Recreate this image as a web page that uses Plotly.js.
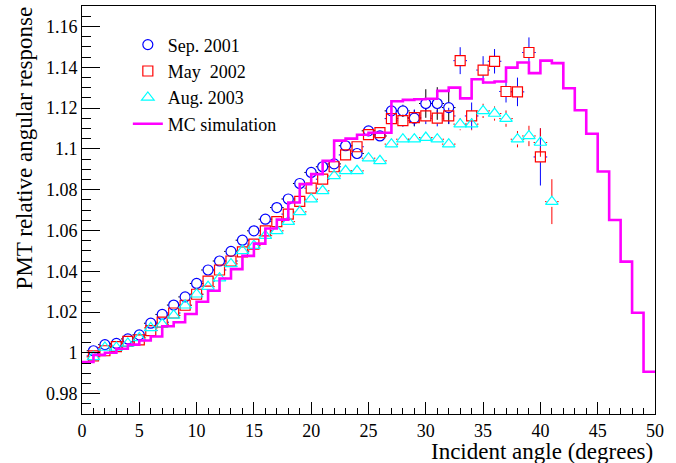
<!DOCTYPE html>
<html><head><meta charset="utf-8">
<script src="https://cdn.plot.ly/plotly-3.0.1.min.js"></script>
<style>html,body{margin:0;padding:0;background:#fff}</style>
</head><body><div id="chart" style="width:676px;height:463px"></div>
<script>
// ---- data ----
const mcBinEdges = [0,1,2,3,4,5,6,7,8,9,10,11,12,13,14,15,16,17,18,19,20,21,22,23,24,25,26,27,28,29,30,31,32,33,34,35,36,37,38,39,40,41,42,43,44,45,46,47,48,49,50];
const mcValues = [0.9955,0.999,1.0,1.002,1.004,1.006,1.008,1.013,1.015,1.019,
  1.025,1.0304,1.0364,1.041,1.0475,1.0535,1.0609,1.0653,1.0737,1.0827,
  1.0876,1.0941,1.104,1.105,1.1069,1.1079,1.1079,1.1233,1.124,1.1243,
  1.1245,1.1284,1.13,1.1247,1.1341,1.1325,1.133,1.1398,1.1423,1.1371,
  1.1432,1.142,1.1297,1.1189,1.1074,1.0889,1.0651,1.0447,1.0196,0.9907];

const sepAngles = [1,2,3,4,5,6,7,8,9,10,11,12,13,14,15,16,17,18,19,20,21,22,23,24,25,26,27,28,29,30,31,32];
const sepValues = [1.001,1.004,1.0046,1.0068,1.0088,1.0145,1.0188,1.0234,1.0274,1.034,
  1.0406,1.045,1.0497,1.0552,1.0598,1.0655,1.0712,1.0754,1.083,1.0884,
  1.0912,1.0926,1.1015,1.0977,1.1088,1.1063,1.1186,1.1186,1.115,1.1222,1.1222,1.1202];
const sepErrors = [0.0015,0.0015,0.0015,0.0015,0.0015,0.0015,0.0015,0.0015,0.0015,0.0015,
  0.0015,0.0015,0.0015,0.0015,0.0015,0.0015,0.0015,0.0015,0.0015,0.0015,
  0.0015,0.0015,0.0015,0.0015,0.002,0.002,0.003,0.003,0.004,0.007,0.008,0.008];

const mayAngles = [1,2,3,4,5,6,7,8,9,10,11,12,13,14,15,16,17,18,19,20,21,22,23,24,25,26,27,28,29,30,31,32,33,34,35,36,37,38,39,40];
const mayValues = [0.9985,1.001,1.003,1.0056,1.0063,1.0109,1.015,1.0195,1.0233,1.0287,
  1.0351,1.0406,1.045,1.0495,1.0533,1.0598,1.0643,1.068,1.0742,1.0807,
  1.0851,1.0912,1.097,1.101,1.1069,1.1079,1.1148,1.1138,1.1153,1.1161,
  1.115,1.1161,1.1432,1.1161,1.1386,1.1429,1.1281,1.1279,1.1472,1.096];
const mayErrors = [0.0015,0.0015,0.0015,0.0015,0.0015,0.0015,0.0015,0.0015,0.0015,0.0015,
  0.0015,0.0015,0.0015,0.0015,0.0015,0.0015,0.0015,0.0015,0.0015,0.0015,
  0.0015,0.0015,0.0015,0.0015,0.002,0.002,0.003,0.003,0.004,0.004,
  0.004,0.004,0.0066,0.0066,0.0068,0.006,0.0054,0.007,0.0074,0.014];

const augAngles = [1,2,3,4,5,6,7,8,9,10,11,12,13,14,15,16,17,18,19,20,21,22,23,24,25,26,27,28,29,30,31,32,33,34,35,36,37,38,39,40,41];
const augValues = [0.998,1.0026,1.0026,1.0046,1.0073,1.0122,1.014,1.0183,1.0233,1.0287,
  1.0324,1.0366,1.0436,1.05,1.0525,1.0574,1.0598,1.0643,1.0691,1.0753,
  1.0794,1.0867,1.0892,1.0892,1.0954,1.0941,1.1023,1.1047,1.1047,1.1055,
  1.1047,1.1023,1.1121,1.1121,1.1186,1.1173,1.1148,1.1047,1.1063,1.1031,1.0741];
const augErrors = [0.0015,0.0015,0.0015,0.0015,0.0015,0.0015,0.0015,0.0015,0.0015,0.0015,
  0.0015,0.0015,0.0015,0.0015,0.0015,0.0015,0.0015,0.0015,0.0015,0.0015,
  0.0015,0.0015,0.0015,0.0015,0.002,0.002,0.002,0.002,0.002,0.002,
  0.002,0.002,0.003,0.003,0.0035,0.0035,0.004,0.004,0.005,0.007,0.011];

const seriesNames = ['Sep. 2001','May  2002','Aug. 2003','MC simulation'];
const xTickVals = [0,5,10,15,20,25,30,35,40,45,50];
const xTickText = ['0','5','10','15','20','25','30','35','40','45','50'];
const yTickVals = [0.98,1.0,1.02,1.04,1.06,1.08,1.1,1.12,1.14,1.16];
const yTickText = ['0.98','1','1.02','1.04','1.06','1.08','1.1','1.12','1.14','1.16'];

// ---- styling / helpers ----
const X_RANGE = [0,50], Y_RANGE = [0.97,1.17];
const PLOT_W = 676-82-21, PLOT_H = 463-6-49;
const yPerPx = (Y_RANGE[1]-Y_RANGE[0])/PLOT_H;
const xPerPx = (X_RANGE[1]-X_RANGE[0])/PLOT_W;
const gapY = 5.2*yPerPx;            // error bars stop at marker edge (ROOT style)
const gx0 = 5.3*xPerPx, gx1 = 6.8*xPerPx;

function errTrace(xs, ys, es, color){
  const sx=[], sy=[];
  for (let i=0;i<xs.length;i++){
    const x=xs[i], y=ys[i], e=es[i];
    if (e>gapY){
      sx.push(x,x,null,x,x,null);
      sy.push(y+gapY,y+e,null,y-gapY,y-e,null);
    }
    sx.push(x-gx1,x-gx0,null,x+gx0,x+gx1,null);
    sy.push(y,y,null,y,y,null);
  }
  return {x:sx,y:sy,mode:'lines',type:'scatter',line:{color:color,width:1},
          showlegend:false,hoverinfo:'skip',connectgaps:false};
}

const FONT = 'Liberation Serif, Times New Roman, serif';
const traces = [
  errTrace(sepAngles,sepValues,sepErrors,'#000000'),
  errTrace(mayAngles,mayValues,mayErrors,'#0000ff'),
  errTrace(augAngles,augValues,augErrors,'#ff0000'),
  {x:sepAngles,y:sepValues,name:seriesNames[0],mode:'markers',type:'scatter',legendgroup:'a',
   marker:{symbol:'circle-open',size:10,color:'#0000ff',line:{width:1.2,color:'#0000ff'}}},
  {x:mayAngles,y:mayValues,name:seriesNames[1],mode:'markers',type:'scatter',legendgroup:'b',
   marker:{symbol:'square-open',size:10,color:'#ff0000',line:{width:1.2,color:'#ff0000'}}},
  {x:augAngles,y:augValues,name:seriesNames[2],mode:'markers',type:'scatter',legendgroup:'c',
   marker:{symbol:'triangle-up-open',size:11,color:'#00ffff',line:{width:1.2,color:'#00ffff'}}},
  {x:mcBinEdges,y:mcValues.concat([mcValues[mcValues.length-1]]),name:seriesNames[3],
   mode:'lines',type:'scatter',legendgroup:'d',line:{shape:'hv',color:'#ff00ff',width:2.6}}
];

const layout = {
  width:676, height:463,
  margin:{l:82,r:21,t:6,b:49},
  paper_bgcolor:'#ffffff', plot_bgcolor:'#ffffff',
  font:{family:FONT,size:18,color:'#000'},
  showlegend:true,
  legend:{x:0.08,y:0.95,xanchor:'left',yanchor:'top',bgcolor:'rgba(0,0,0,0)',
          font:{family:FONT,size:18,color:'#000'},tracegroupgap:0,traceorder:'normal'},
  xaxis:{range:X_RANGE,tickmode:'array',tickvals:xTickVals,ticktext:xTickText,
         ticks:'inside',ticklen:12,tickwidth:1,tickcolor:'#000',
         minor:{tickmode:'linear',tick0:0,dtick:1,ticks:'inside',ticklen:6,tickcolor:'#000',tickwidth:1},
         showline:true,linecolor:'#000',linewidth:1,mirror:true,showgrid:false,zeroline:false,
         tickfont:{family:FONT,size:18,color:'#000'}},
  yaxis:{range:Y_RANGE,tickmode:'array',tickvals:yTickVals,ticktext:yTickText,
         ticks:'inside',ticklen:18,tickwidth:1,tickcolor:'#000',
         minor:{tickmode:'linear',tick0:0.97,dtick:0.005,ticks:'inside',ticklen:9,tickcolor:'#000',tickwidth:1},
         showline:true,linecolor:'#000',linewidth:1,mirror:true,showgrid:false,zeroline:false,
         tickfont:{family:FONT,size:18,color:'#000'}},
  annotations:[
    {text:'PMT relative angular response',xref:'paper',yref:'paper',x:-0.101,y:1.003,
     xanchor:'center',yanchor:'top',textangle:-90,showarrow:false,font:{family:FONT,size:23,color:'#000'}},
    {text:'Incident angle (degrees)',xref:'paper',yref:'paper',x:1,y:-0.092,
     xanchor:'right',yanchor:'middle',showarrow:false,font:{family:FONT,size:23,color:'#000'}}
  ]
};
Plotly.newPlot('chart',traces,layout,{displayModeBar:false,staticPlot:true});
</script></body></html>
